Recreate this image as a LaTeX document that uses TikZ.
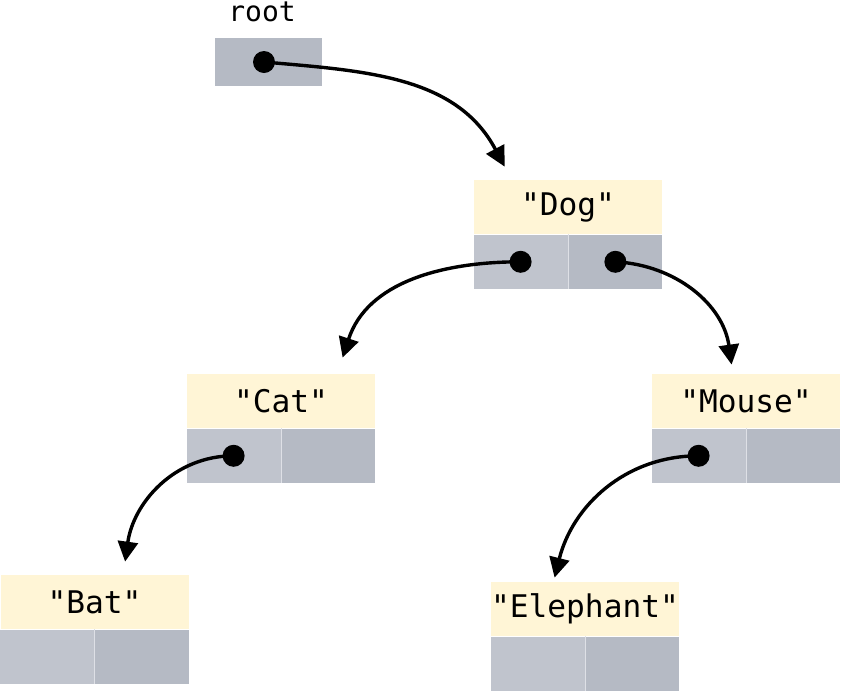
\documentclass[tikz,border=0pt]{standalone}
\usepackage{fontspec}
\newfontfamily\codefont{DejaVu Sans Mono}
\usetikzlibrary{positioning,arrows.meta}

\definecolor{keyfill}{RGB}{255,245,214}
\definecolor{cellA}{RGB}{192,196,205}
\definecolor{cellB}{RGB}{181,186,196}
\definecolor{cellline}{RGB}{222,224,230}

\tikzset{
  key/.style={fill=keyfill, minimum width=94pt, minimum height=27pt, inner sep=0pt,
    font=\codefont\fontsize{15.6}{19}\selectfont},
  lcell/.style={fill=cellA, minimum width=47pt, minimum height=27pt, inner sep=0pt},
  rcell/.style={lcell, fill=cellB},
  dot/.style={circle, fill=black, minimum size=11pt, inner sep=0pt},
  ptr/.style={-{Triangle[length=10pt,width=10pt]}, line width=1.7pt},
}

\begin{document}
\begin{tikzpicture}[x=0.5pt, y=0.5pt]
\useasboundingbox (0,0) rectangle (841,-692);

% root pointer
\node[font=\codefont\fontsize{14}{17}\selectfont] (rootname) at (262,-12) {root};
\node[rcell, minimum width=53.5pt, minimum height=24pt] (root) at (268.5,-62) {};
\node[dot] (rootp) at (264,-62) {};

% records
\node[key] (dog) at (568,-207) {"Dog"};
\node[lcell, below left=0pt of dog.south] (dogL) {};
\node[rcell, below right=0pt of dog.south] (dogR) {};

\node[key] (cat) at (281,-401) {"Cat"};
\node[lcell, below left=0pt of cat.south] (catL) {};
\node[rcell, below right=0pt of cat.south] (catR) {};

\node[key] (mouse) at (746,-401) {"Mouse"};
\node[lcell, below left=0pt of mouse.south] (mouseL) {};
\node[rcell, below right=0pt of mouse.south] (mouseR) {};

\node[key] (bat) at (94.5,-602) {"Bat"};
\node[lcell, below left=0pt of bat.south] (batL) {};
\node[rcell, below right=0pt of bat.south] (batR) {};

\node[key] (elephant) at (585,-609) {\makebox[0pt]{"Elephant"}};
\node[lcell, below left=0pt of elephant.south] (elephantL) {};
\node[rcell, below right=0pt of elephant.south] (elephantR) {};

% cell separators
\foreach \rec in {dog,cat,mouse,bat,elephant}
  \draw[cellline, line width=0.4pt] (\rec.south) -- (\rec L.south east);

% pointer dots
\node[dot] (dogLp) at (dogL) {};
\node[dot] (dogRp) at (dogR) {};
\node[dot] (catLp) at (catL) {};
\node[dot] (mouseLp) at (mouseL) {};

% links
\draw[ptr] (rootp.center) to[out=-5, in=118] ([xshift=15.5pt, yshift=6.5pt]dog.north west);
\draw[ptr] (dogLp.center) to[out=180, in=72] ([xshift=78pt, yshift=8pt]cat.north west);
\draw[ptr] (dogRp.center) to[out=-3, in=98] ([xshift=40pt, yshift=4.5pt]mouse.north west);
\draw[ptr] (catLp.center) to[out=180, in=82] ([xshift=62.5pt, yshift=6.5pt]bat.north west);
\draw[ptr] (mouseLp.center) to[out=180, in=76] ([xshift=32pt, yshift=2pt]elephant.north west);
\end{tikzpicture}
\end{document}
